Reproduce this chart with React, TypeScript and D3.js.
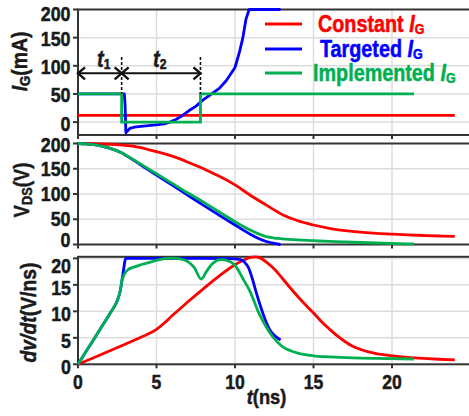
import React from "react";
import * as d3 from "d3";

// ---------- data ----------
const X_TICKS = [0, 5, 10, 15, 20];
const IG_TICKS = [0, 50, 100, 150, 200];
const VDS_TICKS = [0, 50, 100, 150, 200];
const DVDT_TICKS = [0, 5, 10, 15, 20];

// markers for t1 / t2 (ns)
const MARKERS = [0, 2.78, 7.8];

// Gate current (mA)
const IG_RED_T = [0, 24];
const IG_RED_V = [12, 12];
const IG_BLUE_T = [0, 2.95, 3.0, 3.05, 3.15, 3.3, 3.6, 4.0, 4.8, 5.5, 5.85, 6.2, 6.5, 7.1, 7.5, 7.95, 8.4, 8.8, 9.0, 9.45, 10.0, 10.3, 10.5, 10.7, 10.9, 12.9];
const IG_BLUE_V = [50, 50, 30, -19, -16, -11, -9, -7.5, -5.3, -3, 0, 4, 9, 21, 28, 39, 48, 56, 60, 74, 97, 126, 150, 183, 200, 200];
const IG_GREEN_T = [0, 2.78, 2.78, 7.8, 7.8, 21.4];
const IG_GREEN_V = [50, 50, 0, 0, 50, 50];

// VDS (V)
const VDS_RED_T = [0, 1, 2, 3, 4, 4.6, 5, 6, 6.7, 7, 8, 8.8, 9, 10, 10.95, 12, 13.1, 14, 15, 16, 17, 18, 19, 20, 21, 22, 23, 24];
const VDS_RED_V = [200, 199.5, 198.5, 196.5, 192, 187, 184, 175, 167, 163, 150, 138, 135, 118, 98, 78, 58, 47, 38.6, 32, 27.5, 24.5, 22, 20.5, 19, 17.8, 16.8, 16];
const VDS_BLUE_T = [0, 0.5, 1, 1.5, 2, 2.5, 2.8, 3.1, 4, 5, 6, 7, 8, 9, 10, 10.5, 11, 11.5, 12, 12.5, 12.9];
const VDS_BLUE_V = [200, 199.2, 197.6, 194.8, 190.8, 185.4, 181, 175.5, 157.5, 137.5, 117.5, 97.5, 77.5, 58, 38.6, 29, 20, 12, 6, 2, 0];
const VDS_GREEN_T = [0, 0.5, 1, 1.5, 2, 2.5, 2.8, 3.1, 3.5, 4, 4.6, 5, 6, 7, 8, 9, 10, 10.5, 11, 11.5, 12, 12.5, 13, 14, 15, 16, 17, 18, 19, 20, 21.4];
const VDS_GREEN_V = [200, 199.2, 197.6, 194.8, 190.8, 185.4, 181, 176, 168.5, 159, 147.5, 140, 121, 102, 84, 64.5, 45, 36, 28, 21, 15.5, 12.8, 11.2, 9, 7.5, 6, 5, 4, 3, 2, 1];

// dv/dt (V/ns)
const DV_RED_T = [0, 1, 2, 3, 4, 5, 5.5, 6, 6.5, 7, 8, 9, 10, 10.5, 11, 11.3, 11.6, 12, 12.5, 13, 13.5, 14, 14.5, 15, 15.5, 16, 16.5, 17, 17.5, 18, 19, 20, 21, 22, 23, 24];
const DV_RED_V = [0, 1.25, 2.5, 3.8, 5.1, 6.6, 7.8, 9.2, 10.5, 11.8, 14.3, 16.7, 18.8, 19.6, 20.2, 20.3, 20.1, 19.3, 18, 16.3, 14.5, 12.8, 11.2, 9.7, 8.1, 6.7, 5.4, 4.3, 3.4, 2.8, 2.0, 1.6, 1.3, 1.1, 0.95, 0.85];
const DV_BLUE_T = [0, 0.5, 1, 1.5, 2, 2.25, 2.5, 2.7, 2.85, 3.05, 3.2, 4, 6, 8, 9.5, 10.3, 10.6, 10.85, 11.1, 11.35, 11.6, 11.9, 12.2, 12.5, 12.9];
const DV_BLUE_V = [0, 2.35, 4.7, 7.05, 9.4, 10.6, 12.0, 14.0, 16.8, 20, 20, 20, 20, 20, 19.95, 19.8, 19.3, 18.3, 16.2, 13.6, 11.2, 8.6, 6.6, 5.5, 4.6];
const DV_GREEN_T = [0, 0.5, 1, 1.5, 2, 2.25, 2.5, 2.7, 2.8, 2.95, 3.2, 3.5, 4, 4.5, 5, 5.5, 6, 6.5, 7, 7.4, 7.85, 8.2, 8.6, 9.1, 9.5, 10, 10.5, 11, 11.5, 12, 12.4, 13, 13.5, 14, 15, 16, 17.5, 19, 21.4];
const DV_GREEN_V = [0, 2.35, 4.7, 7.05, 9.4, 10.6, 12.0, 14.0, 15.8, 17.0, 17.9, 18.3, 18.8, 19.2, 19.6, 19.95, 20.05, 19.9, 19.4, 18.3, 16.1, 17.6, 19.1, 19.75, 19.6, 18.7, 16.2, 13.5, 9.8, 7.0, 5.2, 3.4, 2.6, 2.1, 1.6, 1.4, 1.2, 1.1, 1.0];

const LEGEND = ["Constant", "Targeted", "Implemented"];

// ---------- style ----------
const RED = "#ff0000";
const BLUE = "#0000ff";
const GREEN = "#00b050";
const AXIS = "#333333";
const GRID = "#dcdcdc";
const FONT = "'Liberation Sans', Arial, Helvetica, sans-serif";
const INK = "#1a1a1a";

const zip = (t: number[], v: number[]) => t.map((d, i) => [d, v[i]] as [number, number]);

const x = d3.scaleLinear().domain([0, 25]).range([78, 470.5]);
const yIG = d3.scaleLinear().domain([-22.9, 200]).range([135, 9.5]);
const yVDS = d3.scaleLinear().domain([0, 200]).range([244.5, 143.5]);
const yDV = d3.scaleLinear().domain([0, 20.3]).range([364.3, 256.8]);

function Txt(props: any) {
  const { x, y, size = 22, sx = 0.85, anchor = "start", fill = INK, rotate = 0, italic = false, heavy = 0.5, children } = props;
  return (
    <g transform={`translate(${x},${y}) rotate(${rotate}) scale(${sx},1)`}>
      <text
        textAnchor={anchor}
        fontSize={size}
        fontWeight="bold"
        fontStyle={italic ? "italic" : "normal"}
        fontFamily={FONT}
        fill={fill}
        stroke={fill}
        strokeWidth={heavy}
        strokeLinejoin="round"
      >
        {children}
      </text>
    </g>
  );
}

function Panel({ y, ticks, gridTicks, labelX, offs }: any) {
  const [y0, y1] = y.range();
  const [x0, x1] = x.range();
  return (
    <g>
      {X_TICKS.filter((t) => t > 0).map((t) => (
        <line key={"gx" + t} x1={x(t)} x2={x(t)} y1={y0} y2={y1} stroke={GRID} strokeWidth={1.5} />
      ))}
      {gridTicks.map((t: number) => (
        <line key={"gy" + t} x1={x0} x2={x1} y1={y(t)} y2={y(t)} stroke={GRID} strokeWidth={1.5} />
      ))}
      <rect x={x0} y={y1} width={x1 - x0} height={y0 - y1} fill="none" stroke={AXIS} strokeWidth={2} />
      {X_TICKS.map((t) => (
        <line key={"tx" + t} x1={x(t)} x2={x(t)} y1={y0} y2={y0 + 4} stroke={AXIS} strokeWidth={2} />
      ))}
      {ticks.map((t: number, i: number) => (
        <g key={"ty" + t}>
          <line x1={x0 - 5} x2={x0} y1={y(t)} y2={y(t)} stroke={AXIS} strokeWidth={2} />
          <Txt x={labelX} y={y(t) + offs[i]} anchor="end" size={21}>
            {t}
          </Txt>
        </g>
      ))}
    </g>
  );
}

export default function App() {
  const lin = (ys: any) => d3.line<[number, number]>().x((d) => x(d[0])).y((d) => ys(d[1])).curve(d3.curveLinear);
  const smooth = (ys: any) => d3.line<[number, number]>().x((d) => x(d[0])).y((d) => ys(d[1])).curve(d3.curveMonotoneX);
  const lw = 2.8;

  const ay = 73.3;
  const mx = MARKERS.map((m) => x(m));
  const ah = 7;
  const aw = 6;

  const legendY = [24, 49, 73];
  const legendTextX = [318, 320, 313];
  const legendColors = [RED, BLUE, GREEN];

  return (
    <svg width={469} height={416} style={{ position: "absolute", left: 0, top: 0, background: "#fff" }}>
      <rect x={0} y={0} width={469} height={416} fill="#fff" />
      <Panel y={yIG} ticks={IG_TICKS} gridTicks={[0, 50, 100, 150]} labelX={70.5} offs={[8.5, 8, 8, 8, 11.5]} />
      <Panel y={yVDS} ticks={VDS_TICKS} gridTicks={[50, 100, 150]} labelX={70.5} offs={[2.5, 7, 7.4, 7.4, 8]} />
      <Panel y={yDV} ticks={DVDT_TICKS} gridTicks={[5, 10, 15, 20]} labelX={71} offs={[10, 10, 10, 10, 14.5]} />

      {/* IG lines */}
      <path d={lin(yIG)(zip(IG_RED_T, IG_RED_V)) || ""} fill="none" stroke={RED} strokeWidth={lw} />
      <path d={lin(yIG)(zip(IG_BLUE_T, IG_BLUE_V)) || ""} fill="none" stroke={BLUE} strokeWidth={lw} strokeLinejoin="round" />
      <path d={lin(yIG)(zip(IG_GREEN_T, IG_GREEN_V)) || ""} fill="none" stroke={GREEN} strokeWidth={lw} />

      {/* VDS lines */}
      <path d={smooth(yVDS)(zip(VDS_RED_T, VDS_RED_V)) || ""} fill="none" stroke={RED} strokeWidth={lw} />
      <path d={smooth(yVDS)(zip(VDS_BLUE_T, VDS_BLUE_V)) || ""} fill="none" stroke={BLUE} strokeWidth={lw} />
      <path d={smooth(yVDS)(zip(VDS_GREEN_T, VDS_GREEN_V)) || ""} fill="none" stroke={GREEN} strokeWidth={lw} />

      {/* dv/dt lines */}
      <path d={smooth(yDV)(zip(DV_RED_T, DV_RED_V)) || ""} fill="none" stroke={RED} strokeWidth={lw} />
      <path d={smooth(yDV)(zip(DV_BLUE_T, DV_BLUE_V)) || ""} fill="none" stroke={BLUE} strokeWidth={lw} />
      <path d={smooth(yDV)(zip(DV_GREEN_T, DV_GREEN_V)) || ""} fill="none" stroke={GREEN} strokeWidth={lw} />

      {/* t1 / t2 annotation */}
      {[mx[1], mx[2]].map((xx, i) => (
        <line key={"dash" + i} x1={xx} x2={xx} y1={57} y2={94} stroke="#111" strokeWidth={1.6} strokeDasharray="3,2" />
      ))}
      <line x1={mx[0]} x2={mx[2]} y1={ay} y2={ay} stroke="#111" strokeWidth={2} />
      <g fill="none" stroke="#111" strokeWidth={2.4}>
        <polyline points={`${mx[0] + ah},${ay - aw} ${mx[0]},${ay} ${mx[0] + ah},${ay + aw}`} />
        <polyline points={`${mx[1] - ah},${ay - aw} ${mx[1]},${ay} ${mx[1] - ah},${ay + aw}`} />
        <polyline points={`${mx[1] + ah},${ay - aw} ${mx[1]},${ay} ${mx[1] + ah},${ay + aw}`} />
        <polyline points={`${mx[2] - ah},${ay - aw} ${mx[2]},${ay} ${mx[2] - ah},${ay + aw}`} />
      </g>
      <Txt x={97} y={67} size={23} sx={0.87}>
        <tspan fontStyle="italic">t</tspan>
        <tspan fontSize={14} dy={2}>1</tspan>
      </Txt>
      <Txt x={153} y={67} size={23} sx={0.87}>
        <tspan fontStyle="italic">t</tspan>
        <tspan fontSize={14} dy={2}>2</tspan>
      </Txt>

      {/* Legend */}
      {LEGEND.map((name, i) => (
        <g key={name}>
          <line x1={265} x2={302} y1={legendY[i]} y2={legendY[i]} stroke={legendColors[i]} strokeWidth={2.8} />
          <Txt x={legendTextX[i]} y={legendY[i] + 8} size={23} sx={0.86} fill={legendColors[i]}>
            {name + " "}
            <tspan fontStyle="italic">I</tspan>
            <tspan fontSize={14.5} dy={2}>G</tspan>
          </Txt>
        </g>
      ))}

      {/* Y axis titles */}
      <Txt x={27} y={61.5} rotate={-90} anchor="middle" size={22} sx={0.88}>
        <tspan fontStyle="italic">I</tspan>
        <tspan fontSize={15} dy={3}>G</tspan>
        <tspan dy={-3}>(mA)</tspan>
      </Txt>
      <Txt x={29} y={190} rotate={-90} anchor="middle" size={22} sx={0.85}>
        <tspan>V</tspan>
        <tspan fontSize={15} dy={3}>DS</tspan>
        <tspan dy={-3}>(V)</tspan>
      </Txt>
      <Txt x={36} y={312.5} rotate={-90} anchor="middle" size={22} sx={0.88}>
        <tspan fontStyle="italic">dv/dt</tspan>
        <tspan>(V/ns)</tspan>
      </Txt>

      {/* X tick labels */}
      {X_TICKS.map((t) => (
        <Txt key={"xl" + t} x={x(t)} y={389} anchor="middle" size={20} sx={0.88}>
          {t}
        </Txt>
      ))}
      <Txt x={266.5} y={404} anchor="middle" size={21} sx={0.87}>
        <tspan fontStyle="italic">t</tspan>
        <tspan>(ns)</tspan>
      </Txt>
    </svg>
  );
}
